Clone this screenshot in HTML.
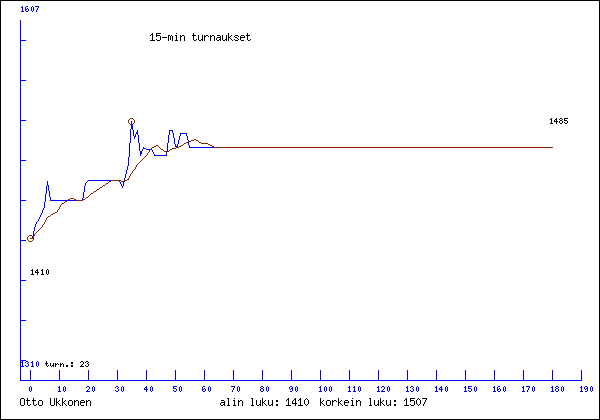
<!DOCTYPE html>
<html lang="fi">
<head>
<meta charset="utf-8">
<title>15-min turnaukset - Otto Ukkonen</title>
<style>
html,body{margin:0;padding:0;width:600px;height:420px;background:#fff;overflow:hidden;font-family:"Liberation Sans",sans-serif}
#chart{display:block;width:600px;height:420px}
</style>
</head>
<body>
<svg id="chart" width="600" height="420" viewBox="0 0 600 420" shape-rendering="crispEdges" role="img">
<title>15-min turnaukset</title>
<desc>Otto Ukkonen. alin luku: 1410, korkein luku: 1507, turn.: 23. Asteikko 1310-1607, pelit 0-190, viimeisin luku 1485.</desc>
<rect width="600" height="420" fill="#ffffff"/>
<g id="frame" aria-label="image border" fill="#000000"><path d="M0 0h600v1h-600zM0 1h1v418h-1zM599 1h1v418h-1zM0 419h600v1h-600z"/></g>
<g id="y-axis" aria-label="rating axis" fill="#0000ff"><path d="M20 20h1v20h-1zM20 40h6v1h-6zM20 41h1v39h-1zM20 80h6v1h-6zM20 81h1v39h-1zM20 120h6v1h-6zM20 121h1v39h-1zM20 160h6v1h-6zM20 161h1v39h-1zM20 200h6v1h-6zM20 201h1v39h-1zM20 240h6v1h-6zM20 241h1v39h-1zM20 280h6v1h-6zM20 281h1v39h-1zM20 320h6v1h-6zM20 321h1v39h-1zM20 360h6v1h-6zM20 361h1v20h-1z"/></g>
<g id="x-axis" aria-label="game number axis" fill="#0000ff"><path d="M30 370h1v10h-1zM59 370h1v10h-1zM88 370h1v10h-1zM117 370h1v10h-1zM146 370h1v10h-1zM175 370h1v10h-1zM204 370h1v10h-1zM233 370h1v10h-1zM262 370h1v10h-1zM291 370h1v10h-1zM320 370h1v10h-1zM349 370h1v10h-1zM378 370h1v10h-1zM407 370h1v10h-1zM436 370h1v10h-1zM465 370h1v10h-1zM494 370h1v10h-1zM523 370h1v10h-1zM552 370h1v10h-1zM581 370h1v10h-1zM20 380h562v1h-562z"/></g>
<g id="x-labels" aria-label="0 10 20 30 40 50 60 70 80 90 100 110 120 130 140 150 160 170 180 190" fill="#0000ff"><path d="M30 386h1v1h-1zM59 386h1v1h-1zM64 386h1v1h-1zM87 386h2v1h-2zM93 386h1v1h-1zM116 386h2v1h-2zM122 386h1v1h-1zM146 386h1v1h-1zM151 386h1v1h-1zM173 386h4v1h-4zM180 386h1v1h-1zM203 386h2v1h-2zM209 386h1v1h-1zM231 386h4v1h-4zM238 386h1v1h-1zM261 386h2v1h-2zM267 386h1v1h-1zM290 386h2v1h-2zM296 386h1v1h-1zM320 386h1v1h-1zM325 386h1v1h-1zM330 386h1v1h-1zM349 386h1v1h-1zM354 386h1v1h-1zM359 386h1v1h-1zM378 386h1v1h-1zM382 386h2v1h-2zM388 386h1v1h-1zM407 386h1v1h-1zM411 386h2v1h-2zM417 386h1v1h-1zM436 386h1v1h-1zM441 386h1v1h-1zM446 386h1v1h-1zM465 386h1v1h-1zM468 386h4v1h-4zM475 386h1v1h-1zM494 386h1v1h-1zM498 386h2v1h-2zM504 386h1v1h-1zM523 386h1v1h-1zM526 386h4v1h-4zM533 386h1v1h-1zM552 386h1v1h-1zM556 386h2v1h-2zM562 386h1v1h-1zM581 386h1v1h-1zM585 386h2v1h-2zM591 386h1v1h-1zM29 387h1v4h-1zM31 387h1v4h-1zM58 387h2v1h-2zM63 387h1v4h-1zM65 387h1v4h-1zM86 387h1v1h-1zM89 387h1v2h-1zM92 387h1v4h-1zM94 387h1v4h-1zM115 387h1v1h-1zM118 387h1v1h-1zM121 387h1v4h-1zM123 387h1v4h-1zM145 387h2v1h-2zM150 387h1v4h-1zM152 387h1v4h-1zM173 387h1v1h-1zM179 387h1v4h-1zM181 387h1v4h-1zM202 387h1v2h-1zM208 387h1v4h-1zM210 387h1v4h-1zM234 387h1v1h-1zM237 387h1v4h-1zM239 387h1v4h-1zM260 387h1v1h-1zM263 387h1v1h-1zM266 387h1v4h-1zM268 387h1v4h-1zM289 387h1v2h-1zM292 387h1v1h-1zM295 387h1v4h-1zM297 387h1v4h-1zM319 387h2v1h-2zM324 387h1v4h-1zM326 387h1v4h-1zM329 387h1v4h-1zM331 387h1v4h-1zM348 387h2v1h-2zM353 387h2v1h-2zM358 387h1v4h-1zM360 387h1v4h-1zM377 387h2v1h-2zM381 387h1v1h-1zM384 387h1v2h-1zM387 387h1v4h-1zM389 387h1v4h-1zM406 387h2v1h-2zM410 387h1v1h-1zM413 387h1v1h-1zM416 387h1v4h-1zM418 387h1v4h-1zM435 387h2v1h-2zM440 387h2v1h-2zM445 387h1v4h-1zM447 387h1v4h-1zM464 387h2v1h-2zM468 387h1v1h-1zM474 387h1v4h-1zM476 387h1v4h-1zM493 387h2v1h-2zM497 387h1v2h-1zM503 387h1v4h-1zM505 387h1v4h-1zM522 387h2v1h-2zM529 387h1v1h-1zM532 387h1v4h-1zM534 387h1v4h-1zM551 387h2v1h-2zM555 387h1v1h-1zM558 387h1v1h-1zM561 387h1v4h-1zM563 387h1v4h-1zM580 387h2v1h-2zM584 387h1v2h-1zM587 387h1v1h-1zM590 387h1v4h-1zM592 387h1v4h-1zM59 388h1v3h-1zM117 388h1v1h-1zM144 388h1v1h-1zM146 388h1v1h-1zM173 388h3v1h-3zM204 388h1v1h-1zM233 388h1v2h-1zM261 388h2v1h-2zM291 388h2v1h-2zM320 388h1v3h-1zM349 388h1v3h-1zM354 388h1v3h-1zM378 388h1v3h-1zM407 388h1v3h-1zM412 388h1v1h-1zM436 388h1v3h-1zM439 388h1v1h-1zM441 388h1v1h-1zM465 388h1v3h-1zM468 388h3v1h-3zM494 388h1v3h-1zM499 388h1v1h-1zM523 388h1v3h-1zM528 388h1v2h-1zM552 388h1v3h-1zM556 388h2v1h-2zM581 388h1v3h-1zM586 388h2v1h-2zM88 389h1v1h-1zM118 389h1v2h-1zM144 389h4v1h-4zM176 389h1v2h-1zM202 389h2v1h-2zM205 389h1v2h-1zM260 389h1v2h-1zM263 389h1v2h-1zM290 389h1v1h-1zM292 389h1v2h-1zM383 389h1v1h-1zM413 389h1v2h-1zM439 389h4v1h-4zM471 389h1v2h-1zM497 389h2v1h-2zM500 389h1v2h-1zM555 389h1v2h-1zM558 389h1v2h-1zM585 389h1v1h-1zM587 389h1v2h-1zM87 390h1v1h-1zM115 390h1v1h-1zM146 390h1v2h-1zM173 390h1v1h-1zM202 390h1v1h-1zM232 390h1v2h-1zM382 390h1v1h-1zM410 390h1v1h-1zM441 390h1v2h-1zM468 390h1v1h-1zM497 390h1v1h-1zM527 390h1v2h-1zM30 391h1v1h-1zM58 391h3v1h-3zM64 391h1v1h-1zM86 391h4v1h-4zM93 391h1v1h-1zM116 391h2v1h-2zM122 391h1v1h-1zM151 391h1v1h-1zM174 391h2v1h-2zM180 391h1v1h-1zM203 391h2v1h-2zM209 391h1v1h-1zM238 391h1v1h-1zM261 391h2v1h-2zM267 391h1v1h-1zM290 391h2v1h-2zM296 391h1v1h-1zM319 391h3v1h-3zM325 391h1v1h-1zM330 391h1v1h-1zM348 391h3v1h-3zM353 391h3v1h-3zM359 391h1v1h-1zM377 391h3v1h-3zM381 391h4v1h-4zM388 391h1v1h-1zM406 391h3v1h-3zM411 391h2v1h-2zM417 391h1v1h-1zM435 391h3v1h-3zM446 391h1v1h-1zM464 391h3v1h-3zM469 391h2v1h-2zM475 391h1v1h-1zM493 391h3v1h-3zM498 391h2v1h-2zM504 391h1v1h-1zM522 391h3v1h-3zM533 391h1v1h-1zM551 391h3v1h-3zM556 391h2v1h-2zM562 391h1v1h-1zM580 391h3v1h-3zM585 391h2v1h-2zM591 391h1v1h-1z"/></g>
<g id="y-max" aria-label="1607" fill="#0000ff"><path d="M22 6h1v1h-1zM26 6h2v1h-2zM32 6h1v1h-1zM35 6h4v1h-4zM21 7h2v1h-2zM25 7h1v2h-1zM31 7h1v4h-1zM33 7h1v4h-1zM38 7h1v1h-1zM22 8h1v3h-1zM27 8h1v1h-1zM37 8h1v2h-1zM25 9h2v1h-2zM28 9h1v2h-1zM25 10h1v1h-1zM36 10h1v2h-1zM21 11h3v1h-3zM26 11h2v1h-2zM32 11h1v1h-1z"/></g>
<g id="y-min" aria-label="1310" fill="#0000ff"><path d="M22 361h1v1h-1zM26 361h2v1h-2zM32 361h1v1h-1zM37 361h1v1h-1zM21 362h2v1h-2zM25 362h1v1h-1zM28 362h1v1h-1zM31 362h2v1h-2zM36 362h1v4h-1zM38 362h1v4h-1zM22 363h1v3h-1zM27 363h1v1h-1zM32 363h1v3h-1zM28 364h1v2h-1zM25 365h1v1h-1zM21 366h3v1h-3zM26 366h2v1h-2zM31 366h3v1h-3zM37 366h1v1h-1z"/></g>
<g id="count" aria-label="turn.: 23" fill="#000000"><path d="M46 361h1v2h-1zM81 361h2v1h-2zM86 361h2v1h-2zM71 362h2v2h-2zM80 362h1v1h-1zM83 362h1v2h-1zM85 362h1v1h-1zM88 362h1v1h-1zM45 363h3v1h-3zM50 363h1v3h-1zM53 363h1v2h-1zM55 363h1v1h-1zM57 363h1v1h-1zM60 363h1v1h-1zM62 363h1v1h-1zM87 363h1v1h-1zM46 364h1v2h-1zM55 364h2v1h-2zM58 364h1v1h-1zM60 364h2v1h-2zM63 364h1v3h-1zM82 364h1v1h-1zM88 364h1v2h-1zM48 365h1v1h-1zM52 365h2v1h-2zM55 365h1v2h-1zM60 365h1v2h-1zM66 365h2v2h-2zM71 365h2v2h-2zM81 365h1v1h-1zM85 365h1v1h-1zM47 366h1v1h-1zM51 366h1v1h-1zM53 366h1v1h-1zM80 366h4v1h-4zM86 366h2v1h-2z"/></g>
<g id="start-label" aria-label="1410" fill="#000000"><path d="M32 269h1v1h-1zM37 269h1v1h-1zM42 269h1v1h-1zM47 269h1v1h-1zM31 270h2v1h-2zM36 270h2v1h-2zM41 270h2v1h-2zM46 270h1v4h-1zM48 270h1v4h-1zM32 271h1v3h-1zM35 271h1v1h-1zM37 271h1v1h-1zM42 271h1v3h-1zM35 272h4v1h-4zM37 273h1v2h-1zM31 274h3v1h-3zM41 274h3v1h-3zM47 274h1v1h-1z"/></g>
<g id="end-label" aria-label="1485" fill="#000000"><path d="M551 118h1v1h-1zM556 118h1v1h-1zM560 118h2v1h-2zM564 118h4v1h-4zM550 119h2v1h-2zM555 119h2v1h-2zM559 119h1v1h-1zM562 119h1v1h-1zM564 119h1v1h-1zM551 120h1v3h-1zM554 120h1v1h-1zM556 120h1v1h-1zM560 120h2v1h-2zM564 120h3v1h-3zM554 121h4v1h-4zM559 121h1v2h-1zM562 121h1v2h-1zM567 121h1v2h-1zM556 122h1v2h-1zM564 122h1v1h-1zM550 123h3v1h-3zM560 123h2v1h-2zM565 123h2v1h-2z"/></g>
<g id="title" aria-label="15-min turnaukset" fill="#000000"><path d="M152 33h1v1h-1zM156 33h5v1h-5zM176 33h1v1h-1zM193 33h1v2h-1zM228 33h1v4h-1zM247 33h1v2h-1zM151 34h2v1h-2zM156 34h1v1h-1zM150 35h1v1h-1zM152 35h1v5h-1zM156 35h4v1h-4zM168 35h2v1h-2zM171 35h1v1h-1zM175 35h2v1h-2zM180 35h1v1h-1zM182 35h2v1h-2zM192 35h4v1h-4zM198 35h1v5h-1zM202 35h1v4h-1zM204 35h1v1h-1zM206 35h2v1h-2zM210 35h1v1h-1zM212 35h2v1h-2zM217 35h3v1h-3zM222 35h1v5h-1zM226 35h1v4h-1zM231 35h1v1h-1zM235 35h3v1h-3zM241 35h3v1h-3zM246 35h4v1h-4zM156 36h1v1h-1zM160 36h1v4h-1zM168 36h1v5h-1zM170 36h1v4h-1zM172 36h1v5h-1zM176 36h1v4h-1zM180 36h2v1h-2zM184 36h1v5h-1zM193 36h1v4h-1zM204 36h2v1h-2zM208 36h1v1h-1zM210 36h2v1h-2zM214 36h1v5h-1zM220 36h1v1h-1zM230 36h1v1h-1zM234 36h1v1h-1zM238 36h1v1h-1zM240 36h1v1h-1zM244 36h1v1h-1zM247 36h1v4h-1zM162 37h5v1h-5zM180 37h1v4h-1zM204 37h1v4h-1zM210 37h1v4h-1zM217 37h4v1h-4zM228 37h2v1h-2zM235 37h2v1h-2zM240 37h5v1h-5zM216 38h1v2h-1zM220 38h1v1h-1zM228 38h1v3h-1zM230 38h1v1h-1zM237 38h1v1h-1zM240 38h1v2h-1zM156 39h1v1h-1zM196 39h1v1h-1zM201 39h2v1h-2zM219 39h2v1h-2zM225 39h2v1h-2zM231 39h1v1h-1zM234 39h1v1h-1zM238 39h1v1h-1zM250 39h1v1h-1zM150 40h5v1h-5zM157 40h3v1h-3zM175 40h3v1h-3zM194 40h2v1h-2zM199 40h2v1h-2zM202 40h1v1h-1zM217 40h2v1h-2zM220 40h1v1h-1zM223 40h2v1h-2zM226 40h1v1h-1zM232 40h1v1h-1zM235 40h3v1h-3zM241 40h3v1h-3zM248 40h2v1h-2z"/></g>
<g id="player" aria-label="Otto Ukkonen" fill="#000000"><path d="M21 398h3v1h-3zM27 398h1v2h-1zM33 398h1v2h-1zM50 398h1v7h-1zM54 398h1v7h-1zM56 398h1v4h-1zM62 398h1v4h-1zM20 399h1v6h-1zM24 399h1v6h-1zM26 400h4v1h-4zM32 400h4v1h-4zM39 400h3v1h-3zM59 400h1v1h-1zM65 400h1v1h-1zM69 400h3v1h-3zM74 400h1v1h-1zM76 400h2v1h-2zM81 400h3v1h-3zM86 400h1v1h-1zM88 400h2v1h-2zM27 401h1v4h-1zM33 401h1v4h-1zM38 401h1v4h-1zM42 401h1v4h-1zM58 401h1v1h-1zM64 401h1v1h-1zM68 401h1v4h-1zM72 401h1v4h-1zM74 401h2v1h-2zM78 401h1v5h-1zM80 401h1v1h-1zM84 401h1v1h-1zM86 401h2v1h-2zM90 401h1v5h-1zM56 402h2v1h-2zM62 402h2v1h-2zM74 402h1v4h-1zM80 402h5v1h-5zM86 402h1v4h-1zM56 403h1v3h-1zM58 403h1v1h-1zM62 403h1v3h-1zM64 403h1v1h-1zM80 403h1v2h-1zM30 404h1v1h-1zM36 404h1v1h-1zM59 404h1v1h-1zM65 404h1v1h-1zM21 405h3v1h-3zM28 405h2v1h-2zM34 405h2v1h-2zM39 405h3v1h-3zM51 405h3v1h-3zM60 405h1v1h-1zM66 405h1v1h-1zM69 405h3v1h-3zM81 405h3v1h-3z"/></g>
<g id="lowest" aria-label="alin luku: 1410" fill="#000000"><path d="M227 398h2v1h-2zM234 398h1v1h-1zM251 398h2v1h-2zM262 398h1v4h-1zM288 398h1v1h-1zM295 398h1v1h-1zM300 398h1v1h-1zM306 398h1v1h-1zM228 399h1v6h-1zM252 399h1v6h-1zM287 399h2v1h-2zM294 399h2v1h-2zM299 399h2v1h-2zM305 399h1v1h-1zM307 399h1v1h-1zM221 400h3v1h-3zM233 400h2v1h-2zM238 400h1v1h-1zM240 400h2v1h-2zM256 400h1v5h-1zM260 400h1v4h-1zM265 400h1v1h-1zM268 400h1v5h-1zM272 400h1v4h-1zM276 400h2v2h-2zM286 400h1v1h-1zM288 400h1v5h-1zM293 400h1v1h-1zM295 400h1v3h-1zM298 400h1v1h-1zM300 400h1v5h-1zM304 400h1v4h-1zM308 400h1v4h-1zM224 401h1v1h-1zM234 401h1v4h-1zM238 401h2v1h-2zM242 401h1v5h-1zM264 401h1v1h-1zM292 401h1v2h-1zM221 402h4v1h-4zM238 402h1v4h-1zM262 402h2v1h-2zM220 403h1v2h-1zM224 403h1v1h-1zM262 403h1v3h-1zM264 403h1v1h-1zM292 403h5v1h-5zM223 404h2v1h-2zM259 404h2v1h-2zM265 404h1v1h-1zM271 404h2v1h-2zM276 404h2v2h-2zM295 404h1v2h-1zM305 404h1v1h-1zM307 404h1v1h-1zM221 405h2v1h-2zM224 405h1v1h-1zM227 405h3v1h-3zM233 405h3v1h-3zM251 405h3v1h-3zM257 405h2v1h-2zM260 405h1v1h-1zM266 405h1v1h-1zM269 405h2v1h-2zM272 405h1v1h-1zM286 405h5v1h-5zM298 405h5v1h-5zM306 405h1v1h-1z"/></g>
<g id="highest" aria-label="korkein luku: 1507" fill="#000000"><path d="M320 398h1v4h-1zM338 398h1v4h-1zM352 398h1v1h-1zM369 398h2v1h-2zM380 398h1v4h-1zM406 398h1v1h-1zM410 398h5v1h-5zM418 398h1v1h-1zM422 398h5v1h-5zM370 399h1v6h-1zM405 399h2v1h-2zM410 399h1v1h-1zM417 399h1v1h-1zM419 399h1v1h-1zM426 399h1v1h-1zM323 400h1v1h-1zM327 400h3v1h-3zM332 400h1v1h-1zM334 400h2v1h-2zM341 400h1v1h-1zM345 400h3v1h-3zM351 400h2v1h-2zM356 400h1v1h-1zM358 400h2v1h-2zM374 400h1v5h-1zM378 400h1v4h-1zM383 400h1v1h-1zM386 400h1v5h-1zM390 400h1v4h-1zM394 400h2v2h-2zM404 400h1v1h-1zM406 400h1v5h-1zM410 400h4v1h-4zM416 400h1v4h-1zM420 400h1v4h-1zM425 400h1v2h-1zM322 401h1v1h-1zM326 401h1v4h-1zM330 401h1v4h-1zM332 401h2v1h-2zM336 401h1v1h-1zM340 401h1v1h-1zM344 401h1v1h-1zM348 401h1v1h-1zM352 401h1v4h-1zM356 401h2v1h-2zM360 401h1v5h-1zM382 401h1v1h-1zM410 401h1v1h-1zM414 401h1v4h-1zM320 402h2v1h-2zM332 402h1v4h-1zM338 402h2v1h-2zM344 402h5v1h-5zM356 402h1v4h-1zM380 402h2v1h-2zM424 402h1v2h-1zM320 403h1v3h-1zM322 403h1v1h-1zM338 403h1v3h-1zM340 403h1v1h-1zM344 403h1v2h-1zM380 403h1v3h-1zM382 403h1v1h-1zM323 404h1v1h-1zM341 404h1v1h-1zM377 404h2v1h-2zM383 404h1v1h-1zM389 404h2v1h-2zM394 404h2v2h-2zM410 404h1v1h-1zM417 404h1v1h-1zM419 404h1v1h-1zM423 404h1v2h-1zM324 405h1v1h-1zM327 405h3v1h-3zM342 405h1v1h-1zM345 405h3v1h-3zM351 405h3v1h-3zM369 405h3v1h-3zM375 405h2v1h-2zM378 405h1v1h-1zM384 405h1v1h-1zM387 405h2v1h-2zM390 405h1v1h-1zM404 405h5v1h-5zM411 405h3v1h-3zM418 405h1v1h-1z"/></g>
<g id="min-marker" aria-label="lowest rating marker" fill="#8b2500"><path d="M29 235h3v1h-3zM28 236h1v1h-1zM32 236h1v1h-1zM27 237h1v3h-1zM33 237h1v3h-1zM28 240h1v1h-1zM32 240h1v1h-1zM29 241h3v1h-3z"/></g>
<g id="game-series-a" aria-label="per-game rating, rising part" fill="#0000ff"><path d="M131 121h1v8h-1zM130 129h1v14h-1zM129 143h1v14h-1zM128 157h1v9h-1zM127 166h1v4h-1zM126 170h1v4h-1zM125 174h1v4h-1zM124 178h1v4h-1zM88 180h32v1h-32zM47 181h1v4h-1zM87 181h1v1h-1zM119 181h1v1h-1zM86 182h1v1h-1zM120 182h1v2h-1zM123 182h1v4h-1zM85 183h1v3h-1zM121 184h1v2h-1zM47 185h2v1h-2zM46 186h1v8h-1zM48 186h1v5h-1zM84 186h1v6h-1zM122 186h1v2h-1zM49 191h1v6h-1zM83 192h1v6h-1zM45 194h1v8h-1zM50 197h1v3h-1zM82 198h1v2h-1zM50 200h33v1h-33zM44 202h1v6h-1zM43 208h1v2h-1zM42 210h1v3h-1zM41 213h1v2h-1zM40 215h1v2h-1zM39 217h1v2h-1zM38 219h1v2h-1zM37 221h1v1h-1zM36 222h1v2h-1zM35 224h1v3h-1zM34 227h1v4h-1zM33 231h1v5h-1zM32 236h1v2h-1zM30 238h3v1h-3z"/></g>
<g id="max-marker" aria-label="highest rating marker" fill="#8b2500"><path d="M130 118h3v1h-3zM129 119h1v1h-1zM133 119h1v1h-1zM128 120h1v3h-1zM134 120h1v3h-1zM129 123h1v1h-1zM133 123h1v1h-1zM130 124h3v1h-3z"/></g>
<g id="game-series-b" aria-label="per-game rating, after peak" fill="#0000ff"><path d="M131 121h1v3h-1zM132 124h1v6h-1zM133 130h1v6h-1zM137 130h1v2h-1zM169 130h4v1h-4zM169 131h1v4h-1zM172 131h1v2h-1zM136 132h2v2h-2zM173 133h1v5h-1zM180 133h7v1h-7zM135 134h1v2h-1zM137 134h1v1h-1zM180 134h1v2h-1zM186 134h1v2h-1zM138 135h1v8h-1zM168 135h1v8h-1zM134 136h2v1h-2zM179 136h1v4h-1zM187 136h1v4h-1zM134 137h1v2h-1zM174 138h1v6h-1zM178 140h1v4h-1zM188 140h1v5h-1zM139 143h1v8h-1zM167 143h1v8h-1zM175 144h1v2h-1zM177 144h1v2h-1zM189 145h1v2h-1zM175 146h3v1h-3zM143 147h1v1h-1zM189 147h27v1h-27zM143 148h3v1h-3zM142 149h1v2h-1zM146 149h6v1h-6zM152 150h1v2h-1zM140 151h2v3h-2zM166 151h1v4h-1zM153 152h1v2h-1zM140 154h1v2h-1zM154 154h1v1h-1zM154 155h13v1h-13z"/></g>
<g id="smoothed-series" aria-label="smoothed rating" fill="#8b2500"><path d="M194 139h2v1h-2zM191 140h3v1h-3zM196 140h2v1h-2zM188 141h3v1h-3zM198 141h1v1h-1zM186 142h2v1h-2zM199 142h2v1h-2zM184 143h2v1h-2zM201 143h7v1h-7zM183 144h1v1h-1zM208 144h2v1h-2zM156 145h2v1h-2zM181 145h2v1h-2zM210 145h2v1h-2zM154 146h2v1h-2zM158 146h1v1h-1zM179 146h2v1h-2zM212 146h2v1h-2zM152 147h2v1h-2zM159 147h1v1h-1zM176 147h3v1h-3zM214 147h339v1h-339zM151 148h1v1h-1zM160 148h1v1h-1zM172 148h4v1h-4zM150 149h1v1h-1zM161 149h2v1h-2zM170 149h2v1h-2zM149 150h1v2h-1zM163 150h1v1h-1zM169 150h1v1h-1zM164 151h2v1h-2zM167 151h2v1h-2zM148 152h1v1h-1zM166 152h1v1h-1zM147 153h1v2h-1zM146 155h1v1h-1zM145 156h1v1h-1zM144 157h1v1h-1zM143 158h1v1h-1zM142 159h1v1h-1zM141 160h1v1h-1zM140 161h1v1h-1zM139 162h1v1h-1zM138 163h1v1h-1zM137 164h1v1h-1zM136 165h1v2h-1zM135 167h1v2h-1zM134 169h1v1h-1zM133 170h1v1h-1zM132 171h1v2h-1zM131 173h1v1h-1zM130 174h1v2h-1zM129 176h1v2h-1zM128 178h1v1h-1zM127 179h2v1h-2zM111 180h10v1h-10zM124 180h3v1h-3zM109 181h2v1h-2zM121 181h3v1h-3zM108 182h1v1h-1zM106 183h2v1h-2zM105 184h1v1h-1zM103 185h2v1h-2zM102 186h1v1h-1zM100 187h2v1h-2zM99 188h1v1h-1zM97 189h2v1h-2zM96 190h1v1h-1zM94 191h2v1h-2zM93 192h1v1h-1zM91 193h2v1h-2zM90 194h1v1h-1zM89 195h1v1h-1zM88 196h1v1h-1zM86 197h2v1h-2zM70 198h4v1h-4zM85 198h1v1h-1zM68 199h2v1h-2zM74 199h2v1h-2zM83 199h2v1h-2zM67 200h1v1h-1zM76 200h7v1h-7zM65 201h2v1h-2zM64 202h1v1h-1zM62 203h2v1h-2zM61 204h1v1h-1zM60 205h1v2h-1zM59 207h1v2h-1zM58 209h1v1h-1zM57 210h1v2h-1zM55 212h2v1h-2zM53 213h2v1h-2zM51 214h2v1h-2zM50 215h1v1h-1zM48 216h2v1h-2zM47 217h1v1h-1zM46 218h1v2h-1zM45 220h1v2h-1zM44 222h1v2h-1zM43 224h1v1h-1zM42 225h1v2h-1zM41 227h1v1h-1zM40 228h1v1h-1zM39 229h1v1h-1zM38 230h1v1h-1zM37 231h1v1h-1zM36 232h1v1h-1zM35 233h1v1h-1zM34 234h1v2h-1zM33 236h1v2h-1zM30 238h3v1h-3z"/></g>
</svg>
</body>
</html>
